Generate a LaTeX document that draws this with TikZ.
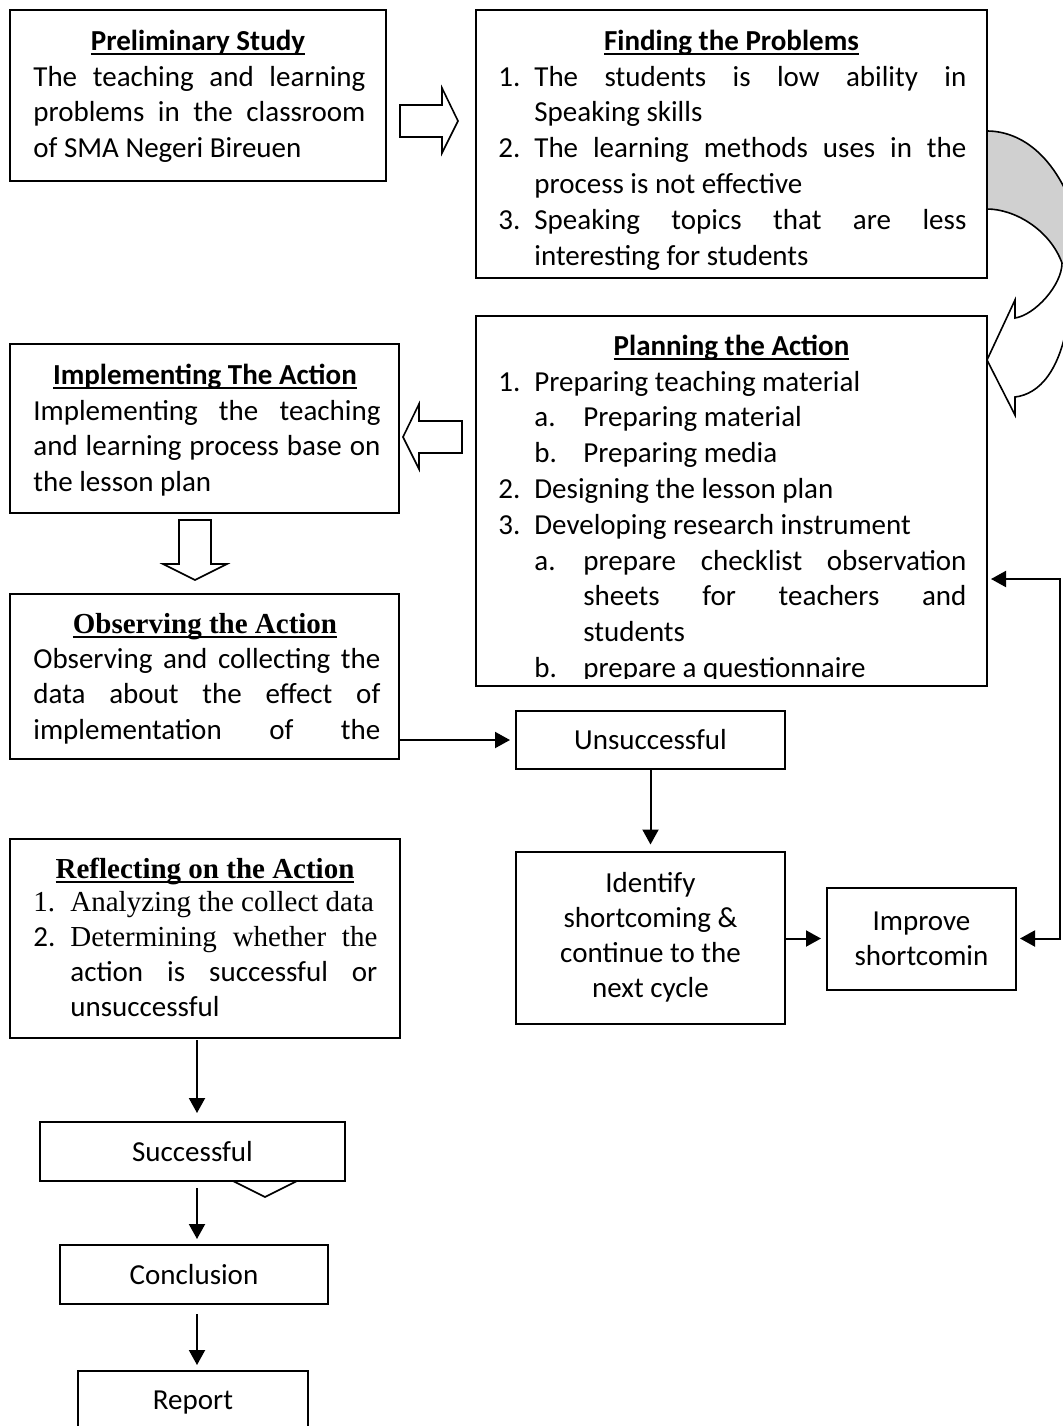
\documentclass[tikz,border=0pt]{standalone}
\usepackage{fontspec}
\setmainfont{Carlito}
\newfontfamily\tnr{Liberation Serif}
\usetikzlibrary{arrows.meta,calc}
\newsavebox\ulbox
\newcommand\myul[1]{\sbox\ulbox{#1}\rlap{\vrule height -1.4pt depth 2.3pt width \wd\ulbox}\usebox\ulbox}
\definecolor{bandgray}{RGB}{208,208,208}
\hyphenpenalty=10000
\exhyphenpenalty=10000
\hbadness=10000
\hfuzz=5pt
\begin{document}
\begin{tikzpicture}[x=0.5pt,y=-0.5pt,
  every node/.style={font=\fontsize{14.5pt}{17.9pt}\selectfont, inner sep=0pt},
  frame/.style={draw, line width=1pt, fill=white},
  txt/.style={anchor=base west},
  ttl/.style={anchor=base, font=\fontsize{14.5pt}{17.9pt}\selectfont\bfseries},
  cbox/.style={frame, align=center, font=\fontsize{14.5pt}{17.5pt}\selectfont},
  conn/.style={line width=1pt, -{Triangle[width=8pt,length=7.5pt]}},
  blockarrow/.style={draw, line width=0.8pt, fill=white, line join=miter},
  curve/.style={line width=0.8pt, line join=miter}
]
\path[use as bounding box] (0,0) rectangle (1063,1426);
\begin{scope}
\clip (0,0) rectangle (1063,1426);

% curved arrow (drawn first, boxes on top)
\fill[bandgray] (987,131) .. controls (1020,131) and (1060,155) .. (1080,230) -- (1080,265) -- (1062,263) .. controls (1050,230) and (1015,209) .. (987,209) -- cycle;
\draw[curve] (987,131) .. controls (1020,131) and (1060,155) .. (1080,230);
\draw[curve] (987,209) .. controls (1015,209) and (1050,230) .. (1062,263);
\fill[white] (1062,263) .. controls (1062,285) and (1035,315) .. (1015,318) -- (1015,300) -- (987,360) -- (1015,415) -- (1015,397) .. controls (1040,394) and (1060,370) .. (1068,320) -- (1080,320) -- (1080,263) -- cycle;
\draw[curve] (1062,263) .. controls (1062,285) and (1035,315) .. (1015,318) -- (1015,300) -- (987,360) -- (1015,415) -- (1015,397) .. controls (1040,394) and (1060,370) .. (1068,320);

% frames
\node[frame, minimum width=188pt, minimum height=85.5pt] (prelim) at (198,95.5) {};
\node[frame, minimum width=255.5pt, minimum height=134pt] (find) at (731.5,144) {};
\node[frame, minimum width=255.5pt, minimum height=185pt] (plan) at (731.5,501) {};
\node[frame, minimum width=194.5pt, minimum height=84.5pt] (impl) at (204.5,428.5) {};
\node[frame, minimum width=194.5pt, minimum height=82.5pt] (obs) at (204.5,676.5) {};
\node[cbox, minimum width=134.5pt, minimum height=29pt] (unsucc) at (650.5,740) {Unsuccessful};
\node[cbox, minimum width=134.5pt, minimum height=86pt] (ident) at (650.5,937.5) {Identify\\shortcoming \&\\continue to the\\next cycle};
\node[cbox, minimum width=94.5pt, minimum height=51pt] (improve) at (921.5,938.5) {Improve\\shortcomin};
\node[frame, minimum width=195pt, minimum height=99.5pt] (refl) at (205,938.5) {};
\draw[blockarrow] (250,1140) -- (280,1140) -- (280,1181) -- (297,1181) -- (265,1197) -- (233,1181) -- (250,1181) -- cycle;
\node[cbox, minimum width=152.5pt, minimum height=29.5pt] (succ) at (192.5,1151.5) {Successful};
\node[cbox, minimum width=134pt, minimum height=29.5pt] (concl) at (194,1274.5) {Conclusion};
\node[cbox, minimum width=115pt, minimum height=32pt] (report) at (193,1403) {Report};

% titles
\node[ttl] (prelimT) at (198,50) {\myul{Preliminary Study}};
\node[ttl] (findT) at (731.5,50) {\myul{Finding the Problems}};
\node[ttl] (planT) at (731.5,355) {\myul{Planning the Action}};
\node[ttl] (implT) at (205,384) {\myul{Implementing The Action}};
\node[ttl] (obsT) at (205,633) {\tnr\bfseries\myul{Observing the Action}};
\node[ttl] (reflT) at (205,878) {\tnr\bfseries\myul{Reflecting on the Action}};

% bodies
\node[txt] (prelimB) at (33,86) {\parbox[t]{166pt}{The teaching and learning\linebreak problems in the classroom\linebreak of SMA Negeri Bireuen}};

\node[txt] (findB) at (498,86) {\parbox[t]{234pt}{%
\hangindent=18pt\hangafter=1\makebox[18pt][l]{1.}The students is low ability in\linebreak Speaking skills\par
\hangindent=18pt\hangafter=1\makebox[18pt][l]{2.}The learning methods uses in the\linebreak process is not effective\par
\hangindent=18pt\hangafter=1\makebox[18pt][l]{3.}Speaking topics that are less\linebreak interesting for students}};

\begin{scope}
\clip (477,317) rectangle (986,678);
\node[txt] (planB) at (498,391) {\parbox[t]{234pt}{%
\hangindent=18pt\hangafter=1\makebox[18pt][l]{1.}Preparing teaching material\par
\hangindent=42.5pt\hangafter=1\makebox[42.5pt][l]{\hspace{18pt}a.}Preparing material\par
\hangindent=42.5pt\hangafter=1\makebox[42.5pt][l]{\hspace{18pt}b.}Preparing media\par
\hangindent=18pt\hangafter=1\makebox[18pt][l]{2.}Designing the lesson plan\par
\hangindent=18pt\hangafter=1\makebox[18pt][l]{3.}Developing research instrument\par
\hangindent=42.5pt\hangafter=1\makebox[42.5pt][l]{\hspace{18pt}a.}prepare checklist observation\linebreak sheets for teachers and\linebreak students\par
\hangindent=42.5pt\hangafter=1\makebox[42.5pt][l]{\hspace{18pt}b.}prepare a questionnaire}};
\end{scope}

\node[txt] (implB) at (33,420) {\parbox[t]{173.5pt}{Implementing the teaching\linebreak and learning process base on\linebreak the lesson plan}};

\begin{scope}
\clip (11,595) rectangle (398,758);
\node[txt] (obsB) at (33,668) {\parbox[t]{173.5pt}{\parfillskip=0pt Observing and collecting the\linebreak data about the effect of\linebreak implementation of the}};
\end{scope}

\node[txt] (reflB) at (33,911) {\parbox[t]{172pt}{\fontsize{14.5pt}{17.5pt}\selectfont
\hangindent=18.5pt\hangafter=1\makebox[18.5pt][l]{\tnr 1.}\mbox{\tnr Analyzing the collect data}\par
\hangindent=18.5pt\hangafter=1\makebox[18.5pt][l]{2.}{\tnr Determining whether the}\linebreak action is successful or\linebreak unsuccessful}};

% block arrows
\draw[blockarrow] (400,105) -- (442,105) -- (442,88) -- (458,121) -- (442,153) -- (442,137) -- (400,137) -- cycle;
\draw[blockarrow] (462,421) -- (419,421) -- (419,404) -- (403,437) -- (419,469) -- (419,453) -- (462,453) -- cycle;
\draw[blockarrow] (179,520) -- (211,520) -- (211,564) -- (227,564) -- (195,580) -- (163,564) -- (179,564) -- cycle;

% connectors
\draw[conn, shorten >=2.5pt] (obs.east |- unsucc.west) -- (unsucc.west);
\draw[conn, shorten >=3pt] (unsucc.south) -- (ident.north);
\draw[conn, shorten >=2.5pt] (ident.east |- improve.west) -- (improve.west);
\coordinate (fb) at (1060,579);
\draw[line width=1pt, {Triangle[width=8pt,length=7.5pt]}-{Triangle[width=8pt,length=7.5pt]}, shorten <=1.5pt, shorten >=1.5pt] (plan.east |- fb) -- (fb) |- (improve.east);
\coordinate (col) at (197,0);
\draw[conn, shorten >=4pt, shorten <=0.5pt] (refl.south -| col) -- (succ.north -| col);
\draw[conn, shorten >=2.5pt, shorten <=3pt] (succ.south -| col) -- (concl.north -| col);
\draw[conn, shorten >=2.5pt, shorten <=4.5pt] (concl.south -| col) -- (report.north -| col);
\end{scope}
\end{tikzpicture}
\end{document}
